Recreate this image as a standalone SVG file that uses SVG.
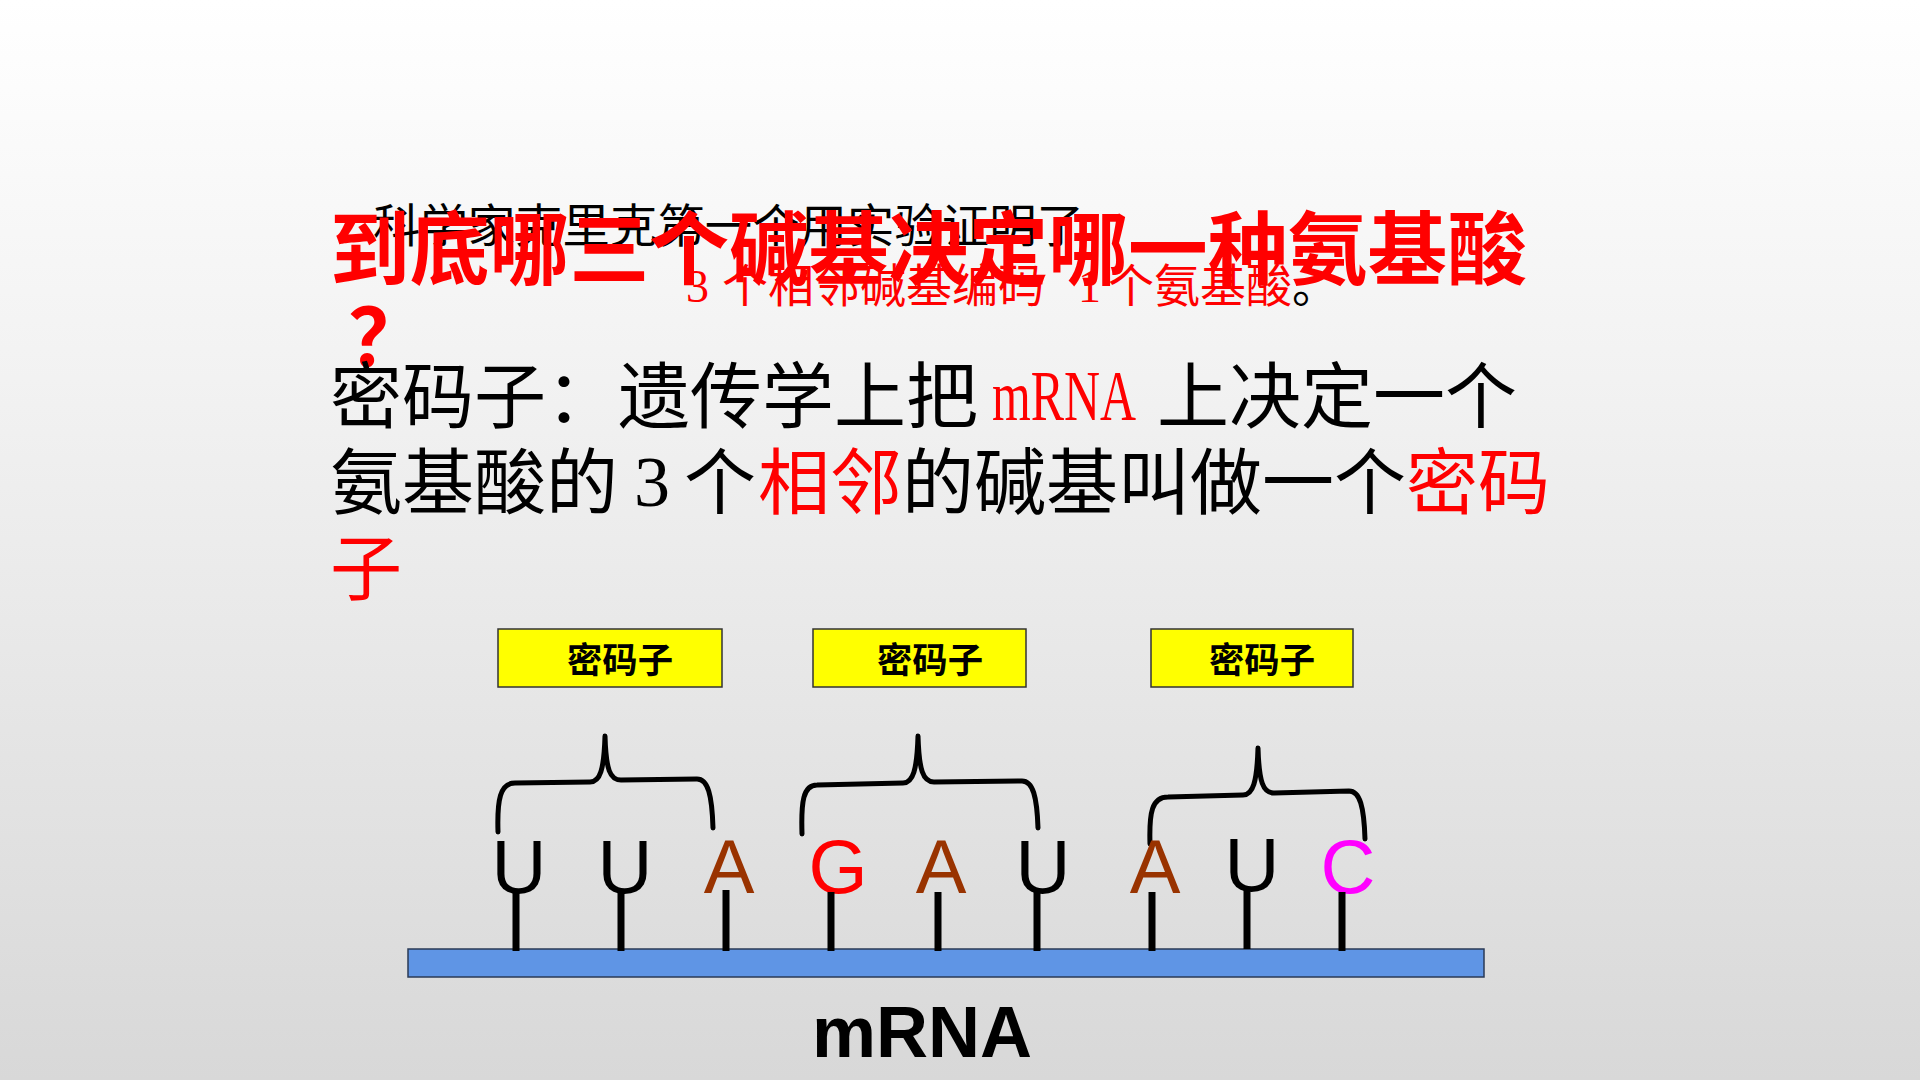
<svg xmlns="http://www.w3.org/2000/svg" width="1920" height="1080" viewBox="0 0 1920 1080">
  <defs>
    <linearGradient id="bg" x1="0" y1="0" x2="0" y2="1">
      <stop offset="0" stop-color="#ffffff"/>
      <stop offset="0.35" stop-color="#f2f2f2"/>
      <stop offset="1" stop-color="#d8d8d8"/>
    </linearGradient>
    <style>
      .cjk { font-family: "Noto Sans CJK SC", sans-serif; }
      .title { font-family: "Noto Sans CJK SC", sans-serif; font-weight: 700; font-size: 80px; fill: #ff0000; }
      .small { font-family: "Noto Sans CJK SC", sans-serif; font-size: 46px; }
      .para { font-family: "Noto Sans CJK SC", sans-serif; font-size: 72px; fill: #000000; }
      .lat { font-family: "Liberation Serif", "Noto Sans CJK SC", serif; }
      .red { fill: #ff0000; }
      .box { fill: #ffff00; stroke: #333333; stroke-width: 1.5; }
      .boxtxt { font-family: "Noto Sans CJK SC", sans-serif; font-weight: 700; font-size: 35px; fill: #000000; }
      .base { font-family: "Liberation Sans", Arial, sans-serif; font-size: 76px; text-anchor: middle; }
      .stem { stroke: #000000; stroke-width: 7; fill: none; }
      .brace { stroke: #000000; stroke-width: 5; fill: none; stroke-linecap: round; stroke-linejoin: round; }
      .brown { fill: #993300; }
      .magenta { fill: #ff00ff; }
    </style>
  </defs>

  <rect x="0" y="0" width="1920" height="1080" fill="url(#bg)"/>

  <!-- Background text block (partially covered by title) -->
  <g id="note">
    <text class="small" x="373" y="242" fill="#000000" textLength="711" lengthAdjust="spacingAndGlyphs">科学家克里克第一个用实验证明了</text>
    <text class="small lat red" x="686" y="302">3</text>
    <text class="small red" x="722" y="302" textLength="322" lengthAdjust="spacingAndGlyphs">个相邻碱基编码</text>
    <text class="small lat red" x="1078" y="302">1</text>
    <text class="small red" x="1108" y="302" textLength="184" lengthAdjust="spacingAndGlyphs">个氨基酸</text>
    <text class="small" x="1292" y="302" fill="#000000">。</text>
  </g>

  <!-- Title -->
  <g id="title">
    <text class="title" x="330" y="278" textLength="1197" lengthAdjust="spacingAndGlyphs">到底哪三个碱基决定哪一种氨基酸</text>
    <text class="title" x="348" y="366">？</text>
  </g>

  <!-- Definition paragraph -->
  <g id="definition">
    <text class="para" x="330" y="422" textLength="648" lengthAdjust="spacingAndGlyphs">密码子：遗传学上把</text>
    <text class="para lat red" x="992" y="420" font-size="74" textLength="144" lengthAdjust="spacingAndGlyphs">mRNA</text>
    <text class="para" x="1157" y="422" textLength="360" lengthAdjust="spacingAndGlyphs">上决定一个</text>

    <text class="para" x="330" y="508" textLength="288" lengthAdjust="spacingAndGlyphs">氨基酸的</text>
    <text class="para lat" x="634" y="506" font-size="74">3</text>
    <text class="para" x="684" y="508">个</text>
    <text class="para red" x="758" y="508" textLength="144" lengthAdjust="spacingAndGlyphs">相邻</text>
    <text class="para" x="902" y="508" textLength="504" lengthAdjust="spacingAndGlyphs">的碱基叫做一个</text>
    <text class="para red" x="1406" y="508" textLength="144" lengthAdjust="spacingAndGlyphs">密码</text>

    <text class="para red" x="330" y="594">子</text>
  </g>

  <!-- Codon labels -->
  <g id="codon-label-1">
    <rect class="box" x="498" y="629" width="224" height="58"/>
    <text class="boxtxt" x="567" y="673" textLength="106" lengthAdjust="spacingAndGlyphs">密码子</text>
  </g>
  <g id="codon-label-2">
    <rect class="box" x="813" y="629" width="213" height="58"/>
    <text class="boxtxt" x="877" y="673" textLength="106" lengthAdjust="spacingAndGlyphs">密码子</text>
  </g>
  <g id="codon-label-3">
    <rect class="box" x="1151" y="629" width="202" height="58"/>
    <text class="boxtxt" x="1209" y="673" textLength="106" lengthAdjust="spacingAndGlyphs">密码子</text>
  </g>

  <!-- Braces -->
  <g id="brace-1">
    <path class="brace" d="M498,832 C497,800 500,783 515,783 L590,782 C600,782 604,770 605,736 C606,770 610,780 621,780 L697,779 C708,779 712,795 713,828"/>
  </g>
  <g id="brace-2">
    <path class="brace" d="M802,834 C801,802 803,785 817,785 L903,783 C913,783 917,770 918,736 C919,770 923,782 934,782 L1022,781 C1033,781 1037,797 1038,828"/>
  </g>
  <g id="brace-3">
    <path class="brace" d="M1150,844 C1149,812 1152,797 1168,797 L1243,795 C1253,795 1257,782 1258,748 C1259,782 1263,793 1274,793 L1349,791 C1360,791 1364,807 1365,839"/>
  </g>

  <!-- mRNA strand -->
  <g id="mrna-strand">
    <rect x="408" y="949" width="1076" height="28" fill="#5f95e5" stroke="#2a3a55" stroke-width="1.5"/>
    <text x="812" y="1057" font-family="Liberation Sans, Arial, sans-serif" font-weight="700" font-size="72" fill="#000000">mRNA</text>
  </g>

  <!-- Bases -->
  <g id="base-1"><text class="base" x="519" y="893">U</text></g>
  <g id="base-2"><text class="base" x="625" y="893">U</text></g>
  <g id="base-3"><text class="base brown" x="729" y="893">A</text></g>
  <g id="base-4"><text class="base red" x="838" y="893">G</text></g>
  <g id="base-5"><text class="base brown" x="941" y="893">A</text></g>
  <g id="base-6"><text class="base" x="1043" y="893">U</text></g>
  <g id="base-7"><text class="base brown" x="1155" y="893">A</text></g>
  <g id="base-8"><text class="base" x="1252" y="891">U</text></g>
  <g id="base-9"><text class="base magenta" x="1348" y="893">C</text></g>

  <!-- Connectors: stems linking bases to the strand -->
  <g id="connectors">
    <line class="stem" x1="516" y1="892" x2="516" y2="951"/>
    <line class="stem" x1="621" y1="892" x2="621" y2="951"/>
    <line class="stem" x1="726" y1="890" x2="726" y2="951"/>
    <line class="stem" x1="831" y1="892" x2="831" y2="951"/>
    <line class="stem" x1="938" y1="892" x2="938" y2="951"/>
    <line class="stem" x1="1037" y1="892" x2="1037" y2="951"/>
    <line class="stem" x1="1152" y1="892" x2="1152" y2="951"/>
    <line class="stem" x1="1247" y1="889" x2="1247" y2="949"/>
    <line class="stem" x1="1342" y1="892" x2="1342" y2="951"/>
  </g>
</svg>
